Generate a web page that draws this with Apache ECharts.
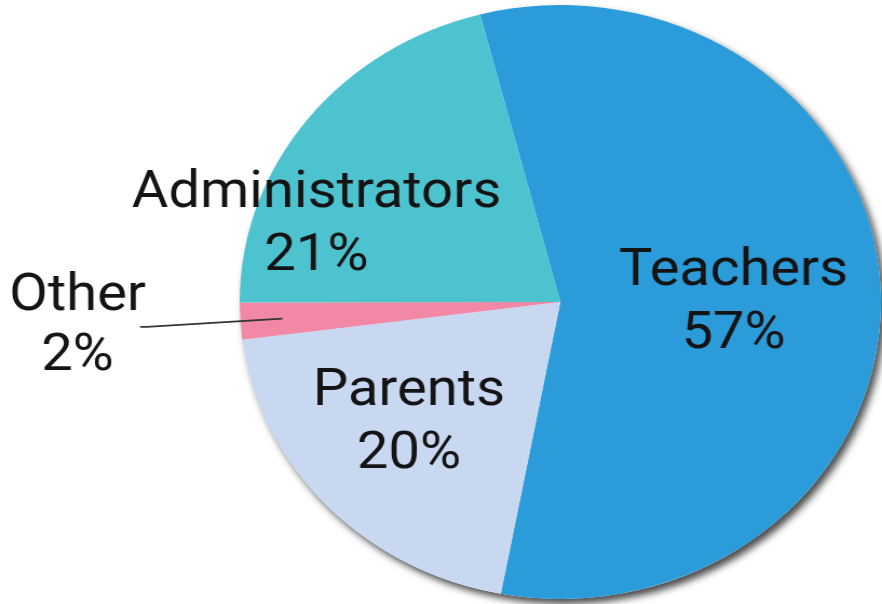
<!DOCTYPE html>
<html>
<head>
<meta charset="utf-8">
<script src="https://cdn.jsdelivr.net/npm/echarts@6/dist/echarts.min.js"></script>
<style>
  html, body { margin: 0; padding: 0; background: #fff; overflow: hidden; }
  #chart { width: 817px; height: 604px; transform: scaleX(1.0796); transform-origin: 0 0; }
</style>
</head>
<body>
<div id="chart"></div>
<script>
// ---- data ----
const categories = ['Teachers', 'Parents', 'Other', 'Administrators'];
const shares = [57, 20, 2, 21];

// ---- style ----
const sliceColors = ['#2b9cd9', '#c9d8f1', '#f088a6', '#4cc3cf'];
const labelShift = {
  Teachers: [9, 7],
  Parents: [-30, 18],
  Administrators: [-106, 16]
};
const CENTER = [519, 302];
const RADIUS = 297;
const FONT = 'Roboto, "Noto Sans", sans-serif';
const FONT_SIZE = 52;

const total = shares.reduce((a, b) => a + b, 0);

const chart = echarts.init(document.getElementById('chart'), null, { renderer: 'canvas' });

const mainData = categories.map((name, i) => ({
  name: name,
  value: shares[i],
  itemStyle: { color: sliceColors[i] },
  label: { show: name !== 'Other' }
}));

const leaderData = categories.map((name, i) => ({
  name: name,
  value: shares[i],
  label: { show: name === 'Other' },
  labelLine: { show: name === 'Other' }
}));

chart.setOption({
  animation: false,
  backgroundColor: '#ffffff',
  series: [
    {
      // shadow disc behind the pie
      type: 'pie',
      silent: true,
      z: 1,
      center: CENTER,
      radius: RADIUS,
      label: { show: false },
      labelLine: { show: false },
      itemStyle: {
        color: '#ffffff',
        shadowColor: 'rgba(0,0,0,0.7)',
        shadowBlur: 7,
        shadowOffsetX: 4,
        shadowOffsetY: 5
      },
      emphasis: { disabled: true },
      data: [{ name: 'all', value: total }]
    },
    {
      type: 'pie',
      silent: true,
      z: 2,
      center: CENTER,
      radius: RADIUS,
      startAngle: 104.5,
      clockwise: true,
      emphasis: { disabled: true },
      itemStyle: { borderWidth: 0 },
      label: {
        position: 'inside',
        formatter: '{b}\n{c}%',
        color: '#141414',
        fontFamily: FONT,
        fontSize: FONT_SIZE,
        lineHeight: 63
      },
      labelLine: { show: false },
      labelLayout: function (params) {
        const s = labelShift[categories[params.dataIndex]] || [0, 0];
        return { dx: s[0], dy: s[1] };
      },
      data: mainData
    },
    {
      // invisible copy, used only to draw the leader line of the small slice
      type: 'pie',
      silent: true,
      z: 5,
      center: CENTER,
      radius: 258,
      startAngle: 104.5,
      clockwise: true,
      bleedMargin: 0,
      avoidLabelOverlap: false,
      emphasis: { disabled: true },
      itemStyle: { color: 'rgba(0,0,0,0)' },
      label: {
        position: 'outside',
        formatter: '{t|{b}}\n{t|{c}%}',
        distanceToLabelLine: -6,
        width: 128,
        overflow: 'none',
        rich: {
          t: {
            color: '#141414',
            fontFamily: FONT,
            fontSize: FONT_SIZE,
            lineHeight: 60,
            width: 128,
            align: 'center'
          }
        }
      },
      labelLine: {
        length: 126,
        length2: 6,
        lineStyle: { color: '#333333', width: 1.8 }
      },
      data: leaderData
    }
  ]
});
</script>
</body>
</html>
